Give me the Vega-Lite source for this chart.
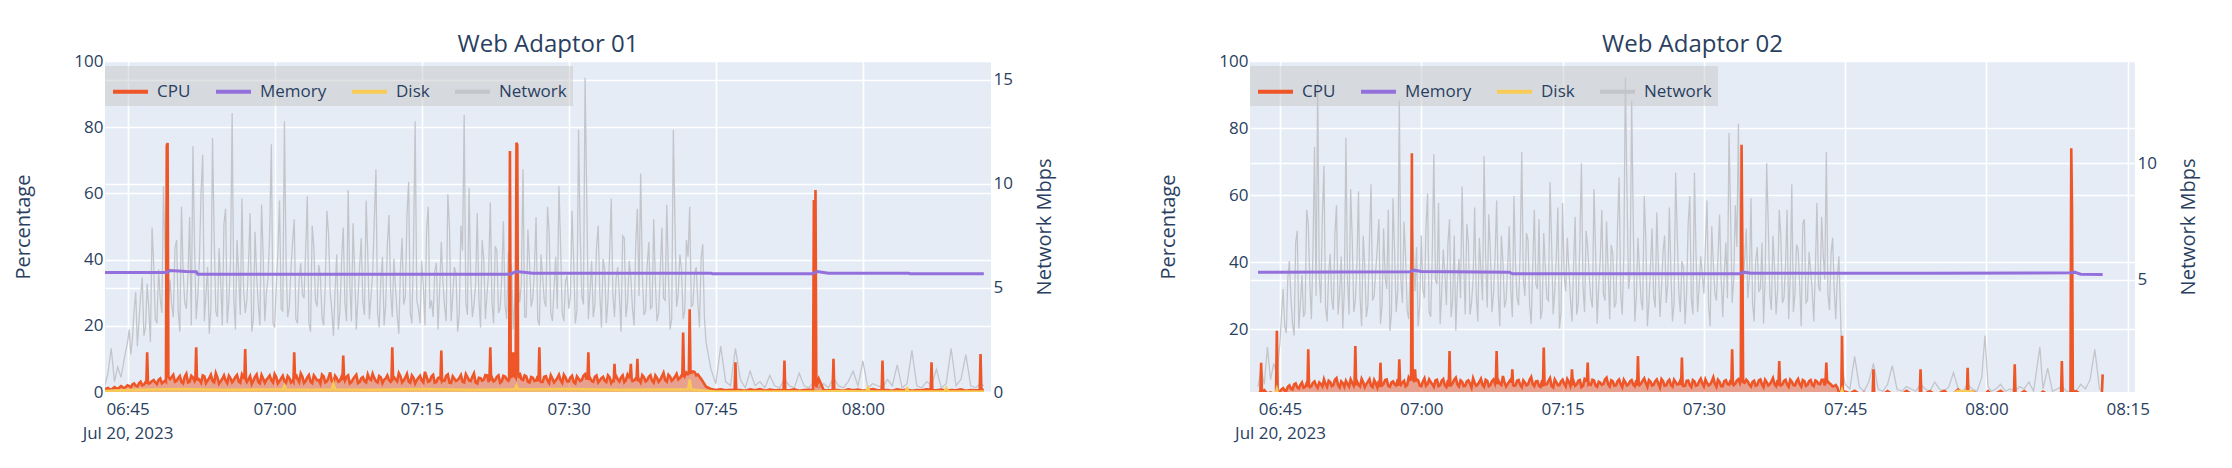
{
"$schema":"https://vega.github.io/schema/vega-lite/v6.json",
"background":"white",
"padding":{"left":13,"top":33,"right":5,"bottom":40},
"config":{
 "font":"Open Sans",
 "view":{"fill":"#E5ECF6","stroke":null},
 "mark":{"invalid":"filter"},
 "axis":{"labelFont":"Open Sans","labelFontSize":17,"labelColor":"#2a3f5f","titleFont":"Open Sans","titleFontSize":20,"titleColor":"#2a3f5f","titleFontWeight":"normal","domain":false,"ticks":false,"gridColor":"white","gridWidth":1.6,"labelFlush":false,"labelOverlap":false},
 "title":{"font":"Open Sans","fontSize":24,"fontWeight":"normal","color":"#2a3f5f"}
},
"datasets":{
"p1":[
{"t":"06:42:40","c":0.8,"n":0.3},{"t":"06:43:00","c":1.2,"n":0.9},{"t":"06:43:20","c":0.6,"n":2.1},{"t":"06:43:40","c":1.5,"n":0.5},{"t":"06:44:00","c":0.9,"n":1.2},{"t":"06:44:20","c":1.8,"n":0.7},{"t":"06:44:40","c":1.1,"n":1.6},
{"t":"06:45:00","c":2.0,"n":2.4},{"t":"06:45:20","c":1.4,"n":1.8},{"t":"06:45:40","c":2.6,"n":3.9},{"t":"06:46:00","c":1.7,"n":2.2},{"t":"06:46:20","c":3.1,"n":4.6},{"t":"06:46:40","c":2.2,"n":2.7},
{"t":"06:47:00","c":12,"n":5.2},{"t":"06:47:20","c":2.8,"n":2.4},{"t":"06:47:40","c":3.6,"n":6.1},{"t":"06:48:00","c":2.4,"n":3.3},{"t":"06:48:20","c":4.1,"n":4.5},{"t":"06:48:40","c":3.0,"n":9.9},
{"t":"06:49:00","c":74.5,"n":3.1},{"t":"06:49:20","c":3.9,"n":5.4},{"t":"06:49:40","c":5.2,"n":3.6},{"t":"06:50:00","c":3.4,"n":7.3},{"t":"06:50:20","c":4.8,"n":2.9},{"t":"06:50:40","c":2.6,"n":5.8},
{"t":"06:51:00","c":5.5,"n":4.0},{"t":"06:51:20","c":3.1,"n":8.4},{"t":"06:51:40","c":4.4,"n":11.8},{"t":"06:52:00","c":13.5,"n":3.5},{"t":"06:52:20","c":3.7,"n":6.4},{"t":"06:52:40","c":5.0,"n":11.4},
{"t":"06:53:00","c":2.7,"n":4.7},{"t":"06:53:20","c":4.2,"n":2.8},{"t":"06:53:40","c":3.3,"n":12.2},{"t":"06:54:00","c":5.7,"n":3.9},{"t":"06:54:20","c":2.5,"n":6.9},{"t":"06:54:40","c":4.0,"n":3.2},
{"t":"06:55:00","c":3.5,"n":8.8},{"t":"06:55:20","c":4.9,"n":4.4},{"t":"06:55:40","c":2.9,"n":13.4},{"t":"06:56:00","c":4.5,"n":3.0},{"t":"06:56:20","c":3.2,"n":5.7},{"t":"06:56:40","c":5.3,"n":9.3},
{"t":"06:57:00","c":13,"n":3.8},{"t":"06:57:20","c":3.8,"n":6.1},{"t":"06:57:40","c":2.4,"n":2.9},{"t":"06:58:00","c":4.6,"n":7.7},{"t":"06:58:20","c":3.0,"n":4.2},{"t":"06:58:40","c":5.1,"n":9.0},
{"t":"06:59:00","c":2.8,"n":3.4},{"t":"06:59:20","c":4.3,"n":5.5},{"t":"06:59:40","c":3.6,"n":11.9},{"t":"07:00:00","c":5.4,"n":3.1},{"t":"07:00:20","c":2.6,"n":6.7},{"t":"07:00:40","c":4.1,"n":4.0},
{"t":"07:01:00","c":3.3,"n":13.0},{"t":"07:01:20","c":4.8,"n":3.6},{"t":"07:01:40","c":2.9,"n":5.9},{"t":"07:02:00","c":12,"n":8.3},{"t":"07:02:20","c":3.9,"n":3.3},{"t":"07:02:40","c":5.6,"n":6.2},
{"t":"07:03:00","c":2.7,"n":4.5},{"t":"07:03:20","c":4.4,"n":9.4},{"t":"07:03:40","c":3.1,"n":2.9},{"t":"07:04:00","c":5.0,"n":7.0},{"t":"07:04:20","c":3.5,"n":4.1},{"t":"07:04:40","c":2.5,"n":5.6},
{"t":"07:05:00","c":4.7,"n":3.2},{"t":"07:05:20","c":3.2,"n":8.7},{"t":"07:05:40","c":5.9,"n":4.8},{"t":"07:06:00","c":2.8,"n":2.7},{"t":"07:06:20","c":4.2,"n":6.6},{"t":"07:06:40","c":3.4,"n":3.9},
{"t":"07:07:00","c":11,"n":7.9},{"t":"07:07:20","c":4.6,"n":3.4},{"t":"07:07:40","c":2.6,"n":5.2},{"t":"07:08:00","c":3.9,"n":8.1},{"t":"07:08:20","c":5.2,"n":3.0},{"t":"07:08:40","c":3.0,"n":6.0},
{"t":"07:09:00","c":4.5,"n":4.3},{"t":"07:09:20","c":2.9,"n":9.2},{"t":"07:09:40","c":4.0,"n":3.5},{"t":"07:10:00","c":5.5,"n":5.7},{"t":"07:10:20","c":3.3,"n":10.7},{"t":"07:10:40","c":4.8,"n":3.1},
{"t":"07:11:00","c":2.7,"n":6.5},{"t":"07:11:20","c":4.1,"n":4.2},{"t":"07:11:40","c":3.6,"n":8.5},{"t":"07:12:00","c":13.5,"n":3.6},{"t":"07:12:20","c":3.8,"n":5.0},{"t":"07:12:40","c":5.7,"n":2.8},
{"t":"07:13:00","c":2.9,"n":7.4},{"t":"07:13:20","c":4.4,"n":4.6},{"t":"07:13:40","c":3.2,"n":10.1},{"t":"07:14:00","c":5.0,"n":3.3},{"t":"07:14:20","c":2.6,"n":13.0},{"t":"07:14:40","c":4.3,"n":4.0},
{"t":"07:15:00","c":3.5,"n":6.3},{"t":"07:15:20","c":6.1,"n":3.2},{"t":"07:15:40","c":3.1,"n":8.9},{"t":"07:16:00","c":4.7,"n":4.4},{"t":"07:16:20","c":2.8,"n":5.8},{"t":"07:16:40","c":4.2,"n":3.0},
{"t":"07:17:00","c":12.5,"n":7.2},{"t":"07:17:20","c":3.4,"n":4.1},{"t":"07:17:40","c":5.3,"n":9.5},{"t":"07:18:00","c":2.7,"n":3.4},{"t":"07:18:20","c":4.0,"n":6.0},{"t":"07:18:40","c":3.6,"n":2.9},
{"t":"07:19:00","c":5.1,"n":8.0},{"t":"07:19:20","c":2.9,"n":13.3},{"t":"07:19:40","c":4.5,"n":3.7},{"t":"07:20:00","c":3.3,"n":5.5},{"t":"07:20:20","c":5.6,"n":4.2},{"t":"07:20:40","c":2.6,"n":8.6},
{"t":"07:21:00","c":4.2,"n":3.1},{"t":"07:21:20","c":3.7,"n":6.4},{"t":"07:21:40","c":5.0,"n":4.7},{"t":"07:22:00","c":13.5,"n":9.1},{"t":"07:22:20","c":3.2,"n":3.3},{"t":"07:22:40","c":4.6,"n":6.8},
{"t":"07:23:00","c":2.8,"n":4.0},{"t":"07:23:20","c":4.9,"n":8.2},{"t":"07:23:40","c":3.9,"n":3.5},{"t":"07:24:00","c":72.8,"n":5.9},{"t":"07:24:20","c":12,"n":3.0},{"t":"07:24:40","c":75.3,"n":7.6},
{"t":"07:25:00","c":5.8,"n":4.3},{"t":"07:25:20","c":3.6,"n":10.7},{"t":"07:25:40","c":4.7,"n":3.6},{"t":"07:26:00","c":2.9,"n":6.2},{"t":"07:26:20","c":4.3,"n":4.5},{"t":"07:26:40","c":3.4,"n":8.4},
{"t":"07:27:00","c":13.5,"n":3.2},{"t":"07:27:20","c":3.0,"n":5.6},{"t":"07:27:40","c":4.8,"n":4.1},{"t":"07:28:00","c":2.7,"n":7.7},{"t":"07:28:20","c":4.1,"n":3.4},{"t":"07:28:40","c":3.5,"n":6.5},
{"t":"07:29:00","c":5.2,"n":9.9},{"t":"07:29:20","c":2.8,"n":3.8},{"t":"07:29:40","c":4.4,"n":5.3},{"t":"07:30:00","c":3.2,"n":4.0},{"t":"07:30:20","c":4.9,"n":8.7},{"t":"07:30:40","c":2.6,"n":3.3},
{"t":"07:31:00","c":4.0,"n":12.6},{"t":"07:31:20","c":3.6,"n":4.6},{"t":"07:31:40","c":5.4,"n":15.1},{"t":"07:32:00","c":12,"n":3.5},{"t":"07:32:20","c":3.3,"n":6.3},{"t":"07:32:40","c":4.6,"n":4.2},
{"t":"07:33:00","c":2.9,"n":8.0},{"t":"07:33:20","c":4.2,"n":3.1},{"t":"07:33:40","c":3.4,"n":5.9},{"t":"07:34:00","c":5.0,"n":4.4},{"t":"07:34:20","c":2.7,"n":9.3},{"t":"07:34:40","c":8.5,"n":3.6},
{"t":"07:35:00","c":3.8,"n":6.0},{"t":"07:35:20","c":4.4,"n":2.9},{"t":"07:35:40","c":3.0,"n":7.4},{"t":"07:36:00","c":5.3,"n":4.3},{"t":"07:36:20","c":8.5,"n":5.5},{"t":"07:36:40","c":3.5,"n":3.2},
{"t":"07:37:00","c":10,"n":8.8},{"t":"07:37:20","c":2.9,"n":10.5},{"t":"07:37:40","c":4.5,"n":3.7},{"t":"07:38:00","c":3.6,"n":6.1},{"t":"07:38:20","c":5.1,"n":4.0},{"t":"07:38:40","c":2.8,"n":8.3},
{"t":"07:39:00","c":4.3,"n":3.4},{"t":"07:39:20","c":3.7,"n":5.8},{"t":"07:39:40","c":5.8,"n":4.5},{"t":"07:40:00","c":3.1,"n":9.0},{"t":"07:40:20","c":4.6,"n":3.0},{"t":"07:40:40","c":3.9,"n":12.6},
{"t":"07:41:00","c":5.5,"n":4.1},{"t":"07:41:20","c":4.2,"n":6.6},{"t":"07:41:40","c":18,"n":3.5},{"t":"07:42:00","c":5.9,"n":7.3},{"t":"07:42:20","c":25,"n":8.9},{"t":"07:42:40","c":6.2,"n":4.2},
{"t":"07:43:00","c":5.0,"n":6.0},{"t":"07:43:20","c":4.6,"n":3.1},{"t":"07:43:40","c":3.2,"n":7.1},{"t":"07:44:00","c":1.6,"n":2.4},
{"t":"06:45:10","c":1.8,"n":3.0},{"t":"06:45:30","c":2.3,"n":2.6},{"t":"06:45:50","c":1.9,"n":4.8},{"t":"06:46:10","c":2.6,"n":3.4},{"t":"06:46:30","c":2.0,"n":5.5},{"t":"06:46:50","c":3.0,"n":3.1},
{"t":"06:47:10","c":2.5,"n":4.0},{"t":"06:47:30","c":3.3,"n":7.9},{"t":"06:47:50","c":2.9,"n":3.5},{"t":"06:48:10","c":3.7,"n":5.9},{"t":"06:48:30","c":2.6,"n":3.8},{"t":"06:48:50","c":3.5,"n":6.4},
{"t":"06:49:30","c":4.5,"n":4.2},{"t":"06:49:50","c":3.1,"n":6.9},{"t":"06:50:10","c":4.2,"n":3.9},{"t":"06:50:30","c":3.0,"n":8.9},{"t":"06:50:50","c":4.6,"n":4.3},
{"t":"06:51:10","c":2.9,"n":5.7},{"t":"06:51:30","c":4.9,"n":3.2},{"t":"06:51:50","c":3.3,"n":7.0},{"t":"06:52:10","c":4.1,"n":4.6},{"t":"06:52:30","c":2.8,"n":9.6},{"t":"06:52:50","c":4.7,"n":3.4},
{"t":"06:53:10","c":3.5,"n":6.0},{"t":"06:53:30","c":5.2,"n":4.0},{"t":"06:53:50","c":2.9,"n":7.5},{"t":"06:54:10","c":4.4,"n":3.6},{"t":"06:54:30","c":3.2,"n":5.3},{"t":"06:54:50","c":5.0,"n":8.1},
{"t":"06:55:10","c":2.7,"n":3.3},{"t":"06:55:30","c":4.1,"n":6.2},{"t":"06:55:50","c":3.6,"n":4.5},{"t":"06:56:10","c":5.1,"n":7.3},{"t":"06:56:30","c":2.8,"n":3.7},{"t":"06:56:50","c":4.3,"n":5.0},
{"t":"06:57:10","c":3.0,"n":4.4},{"t":"06:57:30","c":4.8,"n":8.6},{"t":"06:57:50","c":3.4,"n":3.5},{"t":"06:58:10","c":5.3,"n":5.6},{"t":"06:58:30","c":2.6,"n":3.2},{"t":"06:58:50","c":4.0,"n":6.5},
{"t":"06:59:10","c":3.7,"n":4.8},{"t":"06:59:30","c":5.0,"n":7.7},{"t":"06:59:50","c":2.9,"n":3.3},{"t":"07:00:10","c":4.5,"n":5.1},{"t":"07:00:30","c":3.3,"n":9.2},{"t":"07:00:50","c":4.9,"n":3.9},
{"t":"07:01:10","c":2.8,"n":6.3},{"t":"07:01:30","c":4.2,"n":4.1},{"t":"07:01:50","c":3.5,"n":7.2},{"t":"07:02:10","c":5.4,"n":3.5},{"t":"07:02:30","c":3.0,"n":5.4},{"t":"07:02:50","c":4.6,"n":4.7},
{"t":"07:03:10","c":3.3,"n":6.8},{"t":"07:03:30","c":5.1,"n":3.3},{"t":"07:03:50","c":2.7,"n":8.0},{"t":"07:04:10","c":4.3,"n":4.4},{"t":"07:04:30","c":3.6,"n":6.1},{"t":"07:04:50","c":5.2,"n":3.6},
{"t":"07:05:10","c":2.9,"n":5.2},{"t":"07:05:30","c":4.4,"n":7.6},{"t":"07:05:50","c":3.2,"n":3.9},{"t":"07:06:10","c":4.9,"n":4.9},{"t":"07:06:30","c":3.1,"n":3.0},{"t":"07:06:50","c":4.7,"n":6.3},
{"t":"07:07:10","c":3.4,"n":4.3},{"t":"07:07:30","c":5.0,"n":9.7},{"t":"07:07:50","c":3.0,"n":3.4},{"t":"07:08:10","c":4.6,"n":5.7},{"t":"07:08:30","c":2.7,"n":4.5},{"t":"07:08:50","c":4.1,"n":7.4},
{"t":"07:09:10","c":3.3,"n":3.7},{"t":"07:09:30","c":5.3,"n":6.6},{"t":"07:09:50","c":3.6,"n":4.6},{"t":"07:10:10","c":4.2,"n":8.2},{"t":"07:10:30","c":2.9,"n":3.8},{"t":"07:10:50","c":4.4,"n":5.4},
{"t":"07:11:10","c":3.7,"n":3.2},{"t":"07:11:30","c":5.0,"n":7.1},{"t":"07:11:50","c":3.1,"n":4.8},{"t":"07:12:10","c":4.5,"n":6.4},{"t":"07:12:30","c":3.2,"n":3.7},{"t":"07:12:50","c":4.8,"n":5.9},
{"t":"07:13:10","c":3.5,"n":4.2},{"t":"07:13:30","c":5.5,"n":8.5},{"t":"07:13:50","c":2.8,"n":3.8},{"t":"07:14:10","c":4.3,"n":6.9},{"t":"07:14:30","c":3.6,"n":4.4},{"t":"07:14:50","c":4.9,"n":3.3},
{"t":"07:15:10","c":2.9,"n":5.1},{"t":"07:15:30","c":4.6,"n":7.8},{"t":"07:15:50","c":3.4,"n":4.0},{"t":"07:16:10","c":5.2,"n":3.6},{"t":"07:16:30","c":3.0,"n":6.2},{"t":"07:16:50","c":4.4,"n":4.9},
{"t":"07:17:10","c":3.6,"n":5.3},{"t":"07:17:30","c":4.9,"n":3.4},{"t":"07:17:50","c":2.8,"n":7.9},{"t":"07:18:10","c":4.7,"n":4.6},{"t":"07:18:30","c":3.3,"n":5.7},{"t":"07:18:50","c":4.2,"n":3.7},
{"t":"07:19:10","c":3.1,"n":6.8},{"t":"07:19:30","c":5.4,"n":4.3},{"t":"07:19:50","c":3.5,"n":9.8},{"t":"07:20:10","c":4.6,"n":3.6},{"t":"07:20:30","c":2.9,"n":5.2},{"t":"07:20:50","c":4.3,"n":4.5},
{"t":"07:21:10","c":3.4,"n":7.3},{"t":"07:21:30","c":5.1,"n":3.5},{"t":"07:21:50","c":3.0,"n":5.8},{"t":"07:22:10","c":4.4,"n":4.3},{"t":"07:22:30","c":3.6,"n":7.0},{"t":"07:22:50","c":5.0,"n":3.8},
{"t":"07:23:10","c":3.2,"n":5.5},{"t":"07:23:30","c":4.7,"n":4.2},{"t":"07:23:50","c":3.4,"n":6.7},{"t":"07:24:10","c":4.6,"n":6.1},{"t":"07:24:30","c":4.8,"n":4.4},{"t":"07:24:55","c":4.2,"n":5.0},
{"t":"07:25:10","c":3.9,"n":5.2},{"t":"07:25:30","c":5.0,"n":3.6},{"t":"07:25:50","c":3.1,"n":7.8},{"t":"07:26:10","c":4.5,"n":4.1},{"t":"07:26:30","c":3.3,"n":5.9},{"t":"07:26:50","c":4.8,"n":3.5},
{"t":"07:27:10","c":3.0,"n":6.6},{"t":"07:27:30","c":4.6,"n":4.4},{"t":"07:27:50","c":3.5,"n":8.9},{"t":"07:28:10","c":5.1,"n":3.8},{"t":"07:28:30","c":2.9,"n":5.0},{"t":"07:28:50","c":4.2,"n":4.0},
{"t":"07:29:10","c":3.6,"n":7.0},{"t":"07:29:30","c":5.2,"n":3.4},{"t":"07:29:50","c":3.2,"n":5.6},{"t":"07:30:10","c":4.4,"n":4.6},{"t":"07:30:30","c":3.0,"n":6.3},{"t":"07:30:50","c":4.7,"n":3.9},
{"t":"07:31:10","c":3.3,"n":7.6},{"t":"07:31:30","c":4.9,"n":4.2},{"t":"07:31:50","c":3.7,"n":9.4},{"t":"07:32:10","c":4.3,"n":4.8},{"t":"07:32:30","c":3.1,"n":3.6},{"t":"07:32:50","c":5.0,"n":6.9},
{"t":"07:33:10","c":3.5,"n":4.7},{"t":"07:33:30","c":4.6,"n":6.4},{"t":"07:33:50","c":3.0,"n":3.3},{"t":"07:34:10","c":4.4,"n":6.6},{"t":"07:34:30","c":3.5,"n":4.7},{"t":"07:34:50","c":4.8,"n":5.5},
{"t":"07:35:10","c":3.2,"n":4.6},{"t":"07:35:30","c":5.0,"n":7.5},{"t":"07:35:50","c":3.6,"n":3.6},{"t":"07:36:10","c":4.5,"n":6.3},{"t":"07:36:30","c":3.3,"n":4.0},{"t":"07:36:50","c":4.1,"n":7.1},
{"t":"07:37:10","c":3.8,"n":4.6},{"t":"07:37:30","c":5.1,"n":5.8},{"t":"07:37:50","c":3.2,"n":3.9},{"t":"07:38:10","c":4.6,"n":7.2},{"t":"07:38:30","c":3.4,"n":4.1},{"t":"07:38:50","c":5.0,"n":5.3},
{"t":"07:39:10","c":3.1,"n":3.8},{"t":"07:39:30","c":4.7,"n":7.9},{"t":"07:39:50","c":3.6,"n":4.4},{"t":"07:40:10","c":5.2,"n":5.6},{"t":"07:40:30","c":3.4,"n":3.5},{"t":"07:40:50","c":4.6,"n":8.1},
{"t":"07:41:10","c":3.8,"n":4.7},{"t":"07:41:30","c":5.0,"n":5.9},{"t":"07:41:50","c":4.8,"n":3.9},{"t":"07:42:10","c":5.4,"n":6.5},{"t":"07:42:30","c":5.8,"n":4.1},{"t":"07:42:50","c":6.0,"n":5.7},
{"t":"07:43:10","c":5.3,"n":4.3},{"t":"07:43:30","c":4.0,"n":6.4},{"t":"07:43:50","c":2.4,"n":3.6},
{"t":"07:44:30","c":0.9,"n":1.1},{"t":"07:45:00","c":0.6,"n":0.4},{"t":"07:45:30","c":0.8,"n":2.2},{"t":"07:46:00","c":0.5,"n":0.5},{"t":"07:46:30","c":0.7,"n":0.3},{"t":"07:47:00","c":9,"n":2.1},
{"t":"07:47:30","c":0.6,"n":0.6},{"t":"07:48:00","c":0.4,"n":0.2},{"t":"07:48:30","c":0.8,"n":1.0},{"t":"07:49:00","c":0.5,"n":0.3},{"t":"07:49:30","c":0.9,"n":0.5},{"t":"07:50:00","c":0.4,"n":0.2},
{"t":"07:50:30","c":0.7,"n":0.8},{"t":"07:51:00","c":0.5,"n":0.3},{"t":"07:51:30","c":0.6,"n":0.2},{"t":"07:52:00","c":9.5,"n":0.6},{"t":"07:52:30","c":0.5,"n":0.3},{"t":"07:53:00","c":0.8,"n":0.2},
{"t":"07:53:30","c":0.4,"n":0.9},{"t":"07:54:00","c":0.6,"n":0.3},{"t":"07:54:30","c":0.7,"n":0.2},{"t":"07:55:00","c":58,"n":0.5},{"t":"07:55:10","c":61,"n":0.3},{"t":"07:55:30","c":4,"n":0.2},
{"t":"07:56:00","c":0.6,"n":0.4},{"t":"07:56:30","c":0.5,"n":0.2},{"t":"07:57:00","c":10,"n":0.7},{"t":"07:57:30","c":0.6,"n":0.3},{"t":"07:58:00","c":0.4,"n":0.2},{"t":"07:58:30","c":0.8,"n":0.5},
{"t":"07:59:00","c":0.5,"n":1.0},{"t":"07:59:30","c":0.7,"n":0.3},{"t":"08:00:00","c":0.4,"n":1.5},{"t":"08:00:30","c":0.6,"n":0.2},{"t":"08:01:00","c":0.9,"n":0.4},{"t":"08:01:30","c":0.5,"n":0.3},
{"t":"08:02:00","c":9.5,"n":0.2},{"t":"08:02:30","c":0.6,"n":0.6},{"t":"08:03:00","c":0.4,"n":0.3},{"t":"08:03:30","c":0.8,"n":1.3},{"t":"08:04:00","c":0.5,"n":0.2},{"t":"08:04:30","c":0.7,"n":0.4},
{"t":"08:05:00","c":0.4,"n":2.0},{"t":"08:05:30","c":0.6,"n":0.3},{"t":"08:06:00","c":0.5,"n":0.2},{"t":"08:06:30","c":0.8,"n":0.5},{"t":"08:07:00","c":9,"n":0.3},{"t":"08:07:30","c":0.5,"n":1.1},
{"t":"08:08:00","c":0.7,"n":0.2},{"t":"08:08:30","c":0.4,"n":0.4},{"t":"08:09:00","c":0.6,"n":2.1},{"t":"08:09:30","c":0.5,"n":0.3},{"t":"08:10:00","c":0.8,"n":0.6},{"t":"08:10:30","c":0.4,"n":1.8},
{"t":"08:11:00","c":0.6,"n":0.3},{"t":"08:11:30","c":0.5,"n":0.2},{"t":"08:12:00","c":11.5,"n":0.4},{"t":"08:12:20","c":0.7,"n":0.3},
{"t":"06:46:55","c":2.5},{"t":"06:47:05","c":2.9},{"t":"06:48:55","c":3.2},{"t":"06:49:05","c":75.2},{"t":"06:49:10","c":4.6},{"t":"06:51:55","c":4.0},{"t":"06:52:05","c":3.5},
{"t":"06:56:55","c":4.2},{"t":"06:57:05","c":3.6},{"t":"07:01:55","c":3.1},{"t":"07:02:05","c":4.0},{"t":"07:06:55","c":3.6},{"t":"07:07:05","c":4.2},{"t":"07:11:55","c":3.4},{"t":"07:12:05","c":4.1},
{"t":"07:16:55","c":4.0},{"t":"07:17:05","c":3.3},{"t":"07:21:55","c":4.6},{"t":"07:22:05","c":3.5},{"t":"07:23:55","c":3.7},{"t":"07:24:05","c":4.5},{"t":"07:24:15","c":4.8},{"t":"07:24:25","c":5.2},
{"t":"07:24:35","c":4.4},{"t":"07:24:45","c":74.6},{"t":"07:24:50","c":5.6},{"t":"07:26:55","c":3.2},{"t":"07:27:05","c":3.4},{"t":"07:31:55","c":4.8},{"t":"07:32:05","c":3.6},
{"t":"07:34:35","c":3.0},{"t":"07:34:45","c":4.0},{"t":"07:36:15","c":4.8},{"t":"07:36:25","c":3.8},{"t":"07:36:55","c":3.6},{"t":"07:37:05","c":3.2},{"t":"07:41:35","c":4.5},{"t":"07:41:45","c":5.5},
{"t":"07:42:15","c":5.6},{"t":"07:42:25","c":6.0},{"t":"07:46:55","c":0.6},{"t":"07:47:05","c":0.6},{"t":"07:51:55","c":0.6},{"t":"07:52:05","c":0.5},{"t":"07:54:55","c":0.6},{"t":"07:55:04","c":2.0},{"t":"07:55:15","c":1.5},
{"t":"07:56:55","c":0.5},{"t":"07:57:05","c":0.6},{"t":"08:01:55","c":0.5},{"t":"08:02:05","c":0.6},{"t":"08:06:55","c":0.7},{"t":"08:07:05","c":0.5},{"t":"08:11:55","c":0.5},{"t":"08:12:05","c":0.6},
{"t":"06:42:40","m":36.1},{"t":"06:49:00","m":36.1},{"t":"06:49:20","m":36.7},{"t":"06:51:00","m":36.4},{"t":"06:52:00","m":36.3},{"t":"06:52:10","m":35.6},{"t":"07:24:00","m":35.6},{"t":"07:24:40","m":36.4},{"t":"07:26:20","m":35.9},{"t":"07:44:30","m":35.9},{"t":"07:44:40","m":35.7},{"t":"07:54:50","m":35.7},{"t":"07:55:20","m":36.4},{"t":"07:56:30","m":35.9},{"t":"08:04:40","m":35.9},{"t":"08:04:50","m":35.7},{"t":"08:12:20","m":35.7},
{"t":"06:42:40","d":0.3},{"t":"06:45:00","d":0.6},{"t":"06:50:00","d":0.9},{"t":"06:55:00","d":0.7},{"t":"07:00:00","d":0.8},{"t":"07:00:50","d":0.8},{"t":"07:01:00","d":1.9},{"t":"07:01:10","d":0.7},{"t":"07:05:50","d":0.8},{"t":"07:06:00","d":2.6},{"t":"07:06:10","d":0.8},{"t":"07:10:00","d":0.7},{"t":"07:15:00","d":0.9},{"t":"07:20:00","d":0.7},{"t":"07:24:30","d":0.8},{"t":"07:24:40","d":2.0},{"t":"07:24:50","d":0.8},{"t":"07:30:00","d":0.9},{"t":"07:35:00","d":0.7},{"t":"07:40:00","d":0.8},{"t":"07:42:10","d":0.8},{"t":"07:42:20","d":3.8},{"t":"07:42:30","d":0.8},{"t":"07:44:00","d":0.4},{"t":"07:45:00","d":0.2},{"t":"07:55:00","d":0.2},{"t":"07:58:00","d":0.3},{"t":"08:00:20","d":0.2},{"t":"08:00:30","d":1.4},{"t":"08:00:40","d":0.2},{"t":"08:04:20","d":0.2},{"t":"08:04:30","d":1.1},{"t":"08:04:40","d":0.2},{"t":"08:08:20","d":0.2},{"t":"08:08:30","d":1.2},{"t":"08:08:40","d":0.2},{"t":"08:12:20","d":0.2}
],
"p2":[
{"t":"06:42:40","c":0.9,"n":0.4},{"t":"06:43:00","c":10,"n":1.2},{"t":"06:43:20","c":1.8,"n":0.5},{"t":"06:43:40","c":0.8,"n":2.1},{"t":"06:44:00","c":1.1,"n":0.7},{"t":"06:44:20","c":0.7,"n":1.4},{"t":"06:44:40","c":19.5,"n":0.9},
{"t":"06:45:00","c":1.5,"n":2.3},{"t":"06:45:20","c":2.4,"n":4.6},{"t":"06:45:40","c":1.6,"n":2.7},{"t":"06:46:00","c":3.2,"n":5.8},{"t":"06:46:20","c":2.0,"n":3.1},{"t":"06:46:40","c":3.8,"n":6.6},
{"t":"06:47:00","c":2.3,"n":2.9},{"t":"06:47:20","c":4.1,"n":5.2},{"t":"06:47:40","c":2.7,"n":3.6},{"t":"06:48:00","c":14,"n":7.4},{"t":"06:48:20","c":3.0,"n":3.3},{"t":"06:48:40","c":4.4,"n":10.7},
{"t":"06:49:00","c":2.5,"n":13.6},{"t":"06:49:20","c":3.6,"n":4.0},{"t":"06:49:40","c":5.0,"n":9.9},{"t":"06:50:00","c":2.8,"n":3.2},{"t":"06:50:20","c":4.2,"n":6.1},{"t":"06:50:40","c":3.3,"n":3.7},
{"t":"06:51:00","c":5.4,"n":8.2},{"t":"06:51:20","c":2.6,"n":4.4},{"t":"06:51:40","c":3.9,"n":2.9},{"t":"06:52:00","c":4.6,"n":11.1},{"t":"06:52:20","c":2.9,"n":3.5},{"t":"06:52:40","c":4.0,"n":6.8},
{"t":"06:53:00","c":15,"n":4.1},{"t":"06:53:20","c":3.4,"n":8.8},{"t":"06:53:40","c":5.2,"n":3.0},{"t":"06:54:00","c":2.7,"n":5.6},{"t":"06:54:20","c":4.3,"n":3.9},{"t":"06:54:40","c":3.1,"n":9.1},
{"t":"06:55:00","c":4.8,"n":4.3},{"t":"06:55:20","c":2.6,"n":6.4},{"t":"06:55:40","c":10,"n":3.1},{"t":"06:56:00","c":3.7,"n":7.2},{"t":"06:56:20","c":5.0,"n":4.6},{"t":"06:56:40","c":2.8,"n":2.8},
{"t":"06:57:00","c":4.4,"n":8.5},{"t":"06:57:20","c":3.2,"n":3.6},{"t":"06:57:40","c":11,"n":12.7},{"t":"06:58:00","c":4.1,"n":4.0},{"t":"06:58:20","c":2.9,"n":6.0},{"t":"06:58:40","c":5.6,"n":3.3},
{"t":"06:59:00","c":72.5,"n":7.9},{"t":"06:59:20","c":8,"n":4.5},{"t":"06:59:40","c":4.7,"n":3.0},{"t":"07:00:00","c":3.0,"n":6.9},{"t":"07:00:20","c":5.3,"n":4.2},{"t":"07:00:40","c":3.6,"n":8.7},
{"t":"07:01:00","c":4.2,"n":3.4},{"t":"07:01:20","c":2.8,"n":10.4},{"t":"07:01:40","c":4.9,"n":4.8},{"t":"07:02:00","c":3.3,"n":3.1},{"t":"07:02:20","c":5.1,"n":6.3},{"t":"07:02:40","c":2.7,"n":3.9},
{"t":"07:03:00","c":13.5,"n":7.6},{"t":"07:03:20","c":3.9,"n":4.1},{"t":"07:03:40","c":5.5,"n":2.8},{"t":"07:04:00","c":2.9,"n":5.9},{"t":"07:04:20","c":4.3,"n":9.0},{"t":"07:04:40","c":3.1,"n":3.5},
{"t":"07:05:00","c":4.7,"n":6.6},{"t":"07:05:20","c":2.6,"n":4.0},{"t":"07:05:40","c":4.0,"n":8.1},{"t":"07:06:00","c":3.5,"n":3.2},{"t":"07:06:20","c":5.2,"n":5.4},{"t":"07:06:40","c":2.8,"n":10.3},
{"t":"07:07:00","c":4.6,"n":3.8},{"t":"07:07:20","c":3.3,"n":6.2},{"t":"07:07:40","c":5.0,"n":4.4},{"t":"07:08:00","c":13.5,"n":8.4},{"t":"07:08:20","c":3.7,"n":3.0},{"t":"07:08:40","c":6.0,"n":5.8},
{"t":"07:09:00","c":2.9,"n":4.1},{"t":"07:09:20","c":4.4,"n":7.3},{"t":"07:09:40","c":8,"n":3.4},{"t":"07:10:00","c":3.2,"n":5.7},{"t":"07:10:20","c":4.8,"n":3.9},{"t":"07:10:40","c":2.7,"n":10.5},
{"t":"07:11:00","c":4.1,"n":4.3},{"t":"07:11:20","c":3.5,"n":6.7},{"t":"07:11:40","c":5.7,"n":3.1},{"t":"07:12:00","c":3.0,"n":8.0},{"t":"07:12:20","c":4.5,"n":4.6},{"t":"07:12:40","c":2.8,"n":3.3},
{"t":"07:13:00","c":14.5,"n":7.0},{"t":"07:13:20","c":3.6,"n":4.2},{"t":"07:13:40","c":5.4,"n":9.2},{"t":"07:14:00","c":2.6,"n":3.5},{"t":"07:14:20","c":4.2,"n":6.0},{"t":"07:14:40","c":3.3,"n":2.9},
{"t":"07:15:00","c":4.9,"n":8.3},{"t":"07:15:20","c":2.9,"n":4.5},{"t":"07:15:40","c":4.3,"n":5.5},{"t":"07:16:00","c":8,"n":3.2},{"t":"07:16:20","c":3.1,"n":7.7},{"t":"07:16:40","c":4.6,"n":4.0},
{"t":"07:17:00","c":2.7,"n":10.0},{"t":"07:17:20","c":5.1,"n":3.6},{"t":"07:17:40","c":10,"n":6.4},{"t":"07:18:00","c":3.4,"n":4.2},{"t":"07:18:20","c":4.7,"n":8.9},{"t":"07:18:40","c":2.8,"n":3.1},
{"t":"07:19:00","c":4.0,"n":5.9},{"t":"07:19:20","c":3.6,"n":4.4},{"t":"07:19:40","c":5.5,"n":7.5},{"t":"07:20:00","c":2.9,"n":3.3},{"t":"07:20:20","c":4.4,"n":6.1},{"t":"07:20:40","c":3.2,"n":4.0},
{"t":"07:21:00","c":5.0,"n":9.4},{"t":"07:21:20","c":2.7,"n":3.5},{"t":"07:21:40","c":4.1,"n":13.7},{"t":"07:22:00","c":3.5,"n":4.6},{"t":"07:22:20","c":4.8,"n":12.7},{"t":"07:22:40","c":3.0,"n":3.2},
{"t":"07:23:00","c":12,"n":6.8},{"t":"07:23:20","c":3.8,"n":4.1},{"t":"07:23:40","c":5.3,"n":8.6},{"t":"07:24:00","c":2.8,"n":3.0},{"t":"07:24:20","c":4.3,"n":5.6},{"t":"07:24:40","c":3.4,"n":4.3},
{"t":"07:25:00","c":5.0,"n":7.9},{"t":"07:25:20","c":2.6,"n":3.4},{"t":"07:25:40","c":4.5,"n":6.2},{"t":"07:26:00","c":3.2,"n":4.0},{"t":"07:26:20","c":4.9,"n":8.1},{"t":"07:26:40","c":2.9,"n":3.2},
{"t":"07:27:00","c":4.2,"n":9.6},{"t":"07:27:20","c":3.6,"n":4.5},{"t":"07:27:40","c":11.5,"n":5.8},{"t":"07:28:00","c":3.1,"n":3.1},{"t":"07:28:20","c":4.7,"n":7.4},{"t":"07:28:40","c":2.7,"n":4.2},
{"t":"07:29:00","c":4.4,"n":9.6},{"t":"07:29:20","c":3.3,"n":3.6},{"t":"07:29:40","c":5.2,"n":6.0},{"t":"07:30:00","c":2.9,"n":4.4},{"t":"07:30:20","c":4.0,"n":8.4},{"t":"07:30:40","c":3.5,"n":3.0},
{"t":"07:31:00","c":5.6,"n":5.7},{"t":"07:31:20","c":2.8,"n":4.1},{"t":"07:31:40","c":4.3,"n":7.8},{"t":"07:32:00","c":3.0,"n":3.4},{"t":"07:32:20","c":4.8,"n":6.6},{"t":"07:32:40","c":3.4,"n":11.3},
{"t":"07:33:00","c":14,"n":4.0},{"t":"07:33:20","c":3.7,"n":8.2},{"t":"07:33:40","c":5.1,"n":11.7},{"t":"07:34:00","c":75,"n":3.5},{"t":"07:34:20","c":4.0,"n":5.9},{"t":"07:34:40","c":4.4,"n":4.2},
{"t":"07:35:00","c":2.9,"n":8.5},{"t":"07:35:20","c":4.6,"n":3.2},{"t":"07:35:40","c":3.3,"n":6.4},{"t":"07:36:00","c":5.0,"n":4.6},{"t":"07:36:20","c":2.7,"n":3.1},{"t":"07:36:40","c":4.2,"n":10.0},
{"t":"07:37:00","c":3.6,"n":4.3},{"t":"07:37:20","c":5.4,"n":6.9},{"t":"07:37:40","c":3.0,"n":3.5},{"t":"07:38:00","c":10.5,"n":8.0},{"t":"07:38:20","c":3.5,"n":4.0},{"t":"07:38:40","c":4.9,"n":5.6},
{"t":"07:39:00","c":2.8,"n":3.3},{"t":"07:39:20","c":4.3,"n":9.1},{"t":"07:39:40","c":3.2,"n":4.4},{"t":"07:40:00","c":5.1,"n":6.3},{"t":"07:40:20","c":2.9,"n":3.0},{"t":"07:40:40","c":4.5,"n":7.6},
{"t":"07:41:00","c":3.4,"n":4.1},{"t":"07:41:20","c":4.8,"n":5.4},{"t":"07:41:40","c":3.0,"n":3.2},{"t":"07:42:00","c":4.4,"n":8.3},{"t":"07:42:20","c":3.6,"n":4.5},{"t":"07:42:40","c":4.9,"n":6.1},
{"t":"07:43:00","c":10,"n":10.5},{"t":"07:43:20","c":3.8,"n":3.7},{"t":"07:43:40","c":2.9,"n":6.8},{"t":"07:44:00","c":3.3,"n":3.3},{"t":"07:44:20","c":1.2,"n":6.0},{"t":"07:44:40","c":18,"n":1.2},
{"t":"06:45:10","c":2.0,"n":3.5},{"t":"06:45:30","c":1.7,"n":3.0},{"t":"06:45:50","c":2.8,"n":5.1},{"t":"06:46:10","c":2.2,"n":4.2},{"t":"06:46:30","c":3.5,"n":2.6},{"t":"06:46:50","c":2.6,"n":7.1},
{"t":"06:47:10","c":3.4,"n":4.0},{"t":"06:47:30","c":2.5,"n":3.4},{"t":"06:47:50","c":3.9,"n":8.0},{"t":"06:48:10","c":2.7,"n":4.9},{"t":"06:48:30","c":4.0,"n":6.2},{"t":"06:48:50","c":3.2,"n":4.3},
{"t":"06:49:10","c":4.1,"n":5.1},{"t":"06:49:30","c":2.9,"n":7.7},{"t":"06:49:50","c":3.6,"n":3.8},{"t":"06:50:10","c":4.6,"n":5.3},{"t":"06:50:30","c":3.0,"n":4.1},{"t":"06:50:50","c":4.9,"n":7.0},
{"t":"06:51:10","c":3.3,"n":3.5},{"t":"06:51:30","c":4.4,"n":6.0},{"t":"06:51:50","c":2.8,"n":4.6},{"t":"06:52:10","c":3.7,"n":5.0},{"t":"06:52:30","c":5.0,"n":8.9},{"t":"06:52:50","c":3.1,"n":3.6},
{"t":"06:53:10","c":4.5,"n":5.7},{"t":"06:53:30","c":2.9,"n":4.2},{"t":"06:53:50","c":4.2,"n":6.9},{"t":"06:54:10","c":3.6,"n":3.4},{"t":"06:54:30","c":5.1,"n":6.7},{"t":"06:54:50","c":2.7,"n":4.1},
{"t":"06:55:10","c":3.9,"n":5.4},{"t":"06:55:30","c":4.6,"n":7.6},{"t":"06:55:50","c":3.2,"n":3.9},{"t":"06:56:10","c":4.8,"n":5.1},{"t":"06:56:30","c":3.0,"n":8.0},{"t":"06:56:50","c":4.1,"n":3.5},
{"t":"06:57:10","c":3.5,"n":6.2},{"t":"06:57:30","c":5.0,"n":4.5},{"t":"06:57:50","c":3.4,"n":5.0},{"t":"06:58:10","c":4.6,"n":7.5},{"t":"06:58:30","c":3.3,"n":3.7},{"t":"06:58:50","c":4.9,"n":5.5},
{"t":"06:59:30","c":5.0,"n":6.4},{"t":"06:59:50","c":3.2,"n":3.9},{"t":"07:00:10","c":4.4,"n":4.6},{"t":"07:00:30","c":3.1,"n":7.2},{"t":"07:00:50","c":5.0,"n":3.6},
{"t":"07:01:10","c":3.6,"n":6.1},{"t":"07:01:30","c":4.7,"n":5.0},{"t":"07:01:50","c":3.0,"n":8.3},{"t":"07:02:10","c":4.6,"n":4.4},{"t":"07:02:30","c":3.2,"n":5.3},{"t":"07:02:50","c":4.8,"n":6.6},
{"t":"07:03:10","c":3.3,"n":3.4},{"t":"07:03:30","c":4.9,"n":6.9},{"t":"07:03:50","c":3.5,"n":4.8},{"t":"07:04:10","c":4.7,"n":4.2},{"t":"07:04:30","c":3.0,"n":5.7},{"t":"07:04:50","c":4.4,"n":7.4},
{"t":"07:05:10","c":3.8,"n":3.5},{"t":"07:05:30","c":5.3,"n":5.0},{"t":"07:05:50","c":3.1,"n":4.4},{"t":"07:06:10","c":4.3,"n":6.8},{"t":"07:06:30","c":3.4,"n":4.1},{"t":"07:06:50","c":4.9,"n":5.9},
{"t":"07:07:10","c":3.0,"n":7.8},{"t":"07:07:30","c":4.5,"n":3.6},{"t":"07:07:50","c":3.7,"n":6.0},{"t":"07:08:10","c":4.8,"n":4.5},{"t":"07:08:30","c":3.3,"n":6.9},{"t":"07:08:50","c":4.2,"n":3.8},
{"t":"07:09:10","c":3.6,"n":5.5},{"t":"07:09:30","c":5.0,"n":4.6},{"t":"07:09:50","c":3.1,"n":8.6},{"t":"07:10:10","c":4.6,"n":4.2},{"t":"07:10:30","c":3.4,"n":6.3},{"t":"07:10:50","c":4.7,"n":5.0},
{"t":"07:11:10","c":3.2,"n":7.0},{"t":"07:11:30","c":4.9,"n":3.9},{"t":"07:11:50","c":3.6,"n":5.6},{"t":"07:12:10","c":4.4,"n":4.8},{"t":"07:12:30","c":3.1,"n":7.6},{"t":"07:12:50","c":4.8,"n":3.7},
{"t":"07:13:10","c":3.5,"n":5.5},{"t":"07:13:30","c":4.6,"n":4.1},{"t":"07:13:50","c":3.0,"n":6.6},{"t":"07:14:10","c":5.0,"n":4.5},{"t":"07:14:30","c":3.3,"n":8.1},{"t":"07:14:50","c":4.4,"n":3.6},
{"t":"07:15:10","c":3.7,"n":5.2},{"t":"07:15:30","c":5.1,"n":6.8},{"t":"07:15:50","c":3.0,"n":4.2},{"t":"07:16:10","c":4.5,"n":5.6},{"t":"07:16:30","c":3.5,"n":3.5},{"t":"07:16:50","c":4.8,"n":6.6},
{"t":"07:17:10","c":3.1,"n":4.7},{"t":"07:17:30","c":4.6,"n":7.1},{"t":"07:17:50","c":3.7,"n":5.1},{"t":"07:18:10","c":4.9,"n":3.8},{"t":"07:18:30","c":3.2,"n":6.2},{"t":"07:18:50","c":4.3,"n":4.7},
{"t":"07:19:10","c":3.4,"n":8.0},{"t":"07:19:30","c":5.0,"n":4.1},{"t":"07:19:50","c":3.6,"n":5.4},{"t":"07:20:10","c":4.7,"n":6.5},{"t":"07:20:30","c":3.1,"n":3.8},{"t":"07:20:50","c":4.5,"n":7.3},
{"t":"07:21:10","c":3.6,"n":4.4},{"t":"07:21:30","c":4.9,"n":6.0},{"t":"07:21:50","c":3.2,"n":8.8},{"t":"07:22:10","c":4.4,"n":5.2},{"t":"07:22:30","c":3.5,"n":7.5},{"t":"07:22:50","c":4.8,"n":4.3},
{"t":"07:23:10","c":3.3,"n":5.4},{"t":"07:23:30","c":4.6,"n":3.7},{"t":"07:23:50","c":3.9,"n":6.8},{"t":"07:24:10","c":4.8,"n":4.0},{"t":"07:24:30","c":3.2,"n":7.2},{"t":"07:24:50","c":4.5,"n":3.8},
{"t":"07:25:10","c":3.7,"n":5.6},{"t":"07:25:30","c":5.1,"n":4.6},{"t":"07:25:50","c":3.1,"n":6.9},{"t":"07:26:10","c":4.4,"n":4.8},{"t":"07:26:30","c":3.4,"n":5.3},{"t":"07:26:50","c":4.9,"n":4.0},
{"t":"07:27:10","c":3.5,"n":7.0},{"t":"07:27:30","c":4.7,"n":3.6},{"t":"07:27:50","c":3.0,"n":5.5},{"t":"07:28:10","c":4.6,"n":4.4},{"t":"07:28:30","c":3.3,"n":8.6},{"t":"07:28:50","c":4.8,"n":3.5},
{"t":"07:29:10","c":3.1,"n":6.1},{"t":"07:29:30","c":4.5,"n":4.7},{"t":"07:29:50","c":3.8,"n":5.2},{"t":"07:30:10","c":5.0,"n":6.5},{"t":"07:30:30","c":3.2,"n":3.9},{"t":"07:30:50","c":4.4,"n":7.3},
{"t":"07:31:10","c":3.7,"n":4.4},{"t":"07:31:30","c":4.9,"n":6.0},{"t":"07:31:50","c":3.0,"n":5.1},{"t":"07:32:10","c":4.5,"n":5.3},{"t":"07:32:30","c":3.6,"n":4.2},{"t":"07:32:50","c":4.8,"n":7.8},
{"t":"07:33:10","c":3.3,"n":5.0},{"t":"07:33:30","c":4.7,"n":6.4},{"t":"07:33:50","c":3.9,"n":5.6},{"t":"07:34:30","c":4.9,"n":7.2},{"t":"07:34:50","c":3.4,"n":5.1},
{"t":"07:35:10","c":4.3,"n":4.0},{"t":"07:35:30","c":3.1,"n":5.8},{"t":"07:35:50","c":4.7,"n":4.5},{"t":"07:36:10","c":3.5,"n":6.6},{"t":"07:36:30","c":4.9,"n":5.0},{"t":"07:36:50","c":3.2,"n":7.4},
{"t":"07:37:10","c":4.4,"n":3.7},{"t":"07:37:30","c":3.6,"n":5.5},{"t":"07:37:50","c":4.8,"n":4.6},{"t":"07:38:10","c":3.2,"n":6.9},{"t":"07:38:30","c":4.6,"n":4.2},{"t":"07:38:50","c":3.5,"n":8.0},
{"t":"07:39:10","c":4.9,"n":5.1},{"t":"07:39:30","c":3.3,"n":3.6},{"t":"07:39:50","c":4.4,"n":6.5},{"t":"07:40:10","c":3.6,"n":4.8},{"t":"07:40:30","c":4.8,"n":7.4},{"t":"07:40:50","c":3.1,"n":4.0},
{"t":"07:41:10","c":4.5,"n":6.2},{"t":"07:41:30","c":3.4,"n":4.5},{"t":"07:41:50","c":4.7,"n":5.4},{"t":"07:42:10","c":3.7,"n":4.7},{"t":"07:42:30","c":4.9,"n":7.7},{"t":"07:42:50","c":3.2,"n":5.0},
{"t":"07:43:10","c":4.4,"n":4.4},{"t":"07:43:30","c":3.5,"n":6.1},{"t":"07:43:50","c":3.0,"n":4.6},{"t":"07:44:10","c":2.6,"n":5.1},
{"t":"07:45:00","c":1.4,"n":0.5},{"t":"07:45:30","c":0.8,"n":0.3},{"t":"07:46:00","c":1.6,"n":1.7},{"t":"07:46:30","c":0.7,"n":0.4},{"t":"07:47:00","c":1.0,"n":0.2},{"t":"07:47:30","c":0.6,"n":0.6},
{"t":"07:48:00","c":8,"n":1.4},{"t":"07:48:30","c":0.8,"n":0.3},{"t":"07:49:00","c":0.5,"n":0.2},{"t":"07:49:30","c":1.5,"n":0.5},{"t":"07:50:00","c":0.6,"n":1.3},{"t":"07:50:30","c":0.9,"n":0.3},
{"t":"07:51:00","c":0.5,"n":0.2},{"t":"07:51:30","c":1.6,"n":0.4},{"t":"07:52:00","c":0.7,"n":0.3},{"t":"07:52:30","c":0.5,"n":0.2},{"t":"07:53:00","c":8,"n":0.5},{"t":"07:53:30","c":0.8,"n":0.3},
{"t":"07:54:00","c":1.5,"n":0.2},{"t":"07:54:30","c":0.6,"n":0.6},{"t":"07:55:00","c":0.9,"n":0.3},{"t":"07:55:30","c":1.6,"n":0.2},{"t":"07:56:00","c":0.5,"n":0.4},{"t":"07:56:30","c":0.8,"n":1.0},
{"t":"07:57:00","c":2.0,"n":0.3},{"t":"07:57:30","c":0.6,"n":0.2},{"t":"07:58:00","c":8.5,"n":0.5},{"t":"07:58:30","c":1.4,"n":0.3},{"t":"07:59:00","c":0.7,"n":0.2},{"t":"07:59:30","c":0.5,"n":0.8},
{"t":"07:59:50","c":0.6,"n":2.6},{"t":"08:00:10","c":1.5,"n":0.4},{"t":"08:00:30","c":0.6,"n":0.2},{"t":"08:01:00","c":0.8,"n":0.3},{"t":"08:01:30","c":1.6,"n":0.5},{"t":"08:02:00","c":0.5,"n":0.2},
{"t":"08:02:30","c":0.9,"n":0.3},{"t":"08:03:00","c":9.5,"n":0.2},{"t":"08:03:30","c":0.6,"n":0.4},{"t":"08:04:00","c":1.5,"n":0.3},{"t":"08:04:30","c":0.5,"n":0.6},{"t":"08:05:00","c":0.7,"n":0.2},
{"t":"08:05:40","c":0.6,"n":2.1},{"t":"08:06:00","c":1.4,"n":0.3},{"t":"08:06:30","c":0.5,"n":1.2},{"t":"08:07:00","c":0.8,"n":0.2},{"t":"08:07:30","c":0.6,"n":0.3},{"t":"08:08:00","c":10.5,"n":0.4},
{"t":"08:08:30","c":0.7,"n":0.2},{"t":"08:09:00","c":74,"n":0.2},{"t":"08:09:10","c":1.2,"n":0.3},{"t":"08:09:30","c":1.5,"n":0.2},{"t":"08:10:00","c":0.6,"n":0.5},{"t":"08:10:30","c":0.8,"n":0.3},
{"t":"08:11:00","c":0.5,"n":0.7},{"t":"08:11:30","c":0.7,"n":2.0},{"t":"08:12:00","c":0.5,"n":0.3},{"t":"08:12:20","c":6.5,"n":0.2},
{"t":"06:42:55","c":0.9},{"t":"06:43:05","c":1.0},{"t":"06:44:35","c":0.8},{"t":"06:44:45","c":1.2},{"t":"06:47:55","c":2.8},{"t":"06:48:05","c":3.2},{"t":"06:52:55","c":4.1},{"t":"06:53:05","c":3.3},
{"t":"06:55:35","c":2.7},{"t":"06:55:45","c":3.5},{"t":"06:57:35","c":3.1},{"t":"06:57:45","c":4.0},{"t":"06:58:55","c":5.0},{"t":"06:59:05","c":5.5},{"t":"06:59:15","c":4.2},{"t":"06:59:25","c":4.5},
{"t":"07:02:55","c":2.9},{"t":"07:03:05","c":3.7},{"t":"07:07:55","c":4.8},{"t":"07:08:05","c":3.6},{"t":"07:09:35","c":4.0},{"t":"07:09:45","c":3.3},{"t":"07:12:55","c":2.9},{"t":"07:13:05","c":3.8},
{"t":"07:15:55","c":4.1},{"t":"07:16:05","c":3.3},{"t":"07:17:35","c":4.8},{"t":"07:17:45","c":3.5},{"t":"07:22:55","c":3.2},{"t":"07:23:05","c":3.6},{"t":"07:27:35","c":3.4},{"t":"07:27:45","c":3.2},
{"t":"07:32:55","c":3.5},{"t":"07:33:05","c":3.9},{"t":"07:33:55","c":4.8},{"t":"07:34:05","c":45},{"t":"07:34:10","c":4.2},{"t":"07:37:55","c":3.2},{"t":"07:38:05","c":3.7},{"t":"07:42:55","c":4.6},{"t":"07:43:05","c":3.9},
{"t":"07:44:35","c":1.1},{"t":"07:44:45","c":1.3},{"t":"07:47:55","c":0.7},{"t":"07:48:05","c":0.8},{"t":"07:52:55","c":0.6},{"t":"07:53:05","c":0.7},{"t":"07:57:55","c":0.7},{"t":"07:58:05","c":1.0},
{"t":"08:02:55","c":0.8},{"t":"08:03:05","c":0.6},{"t":"08:07:55","c":0.6},{"t":"08:08:05","c":0.7},{"t":"08:08:55","c":0.7},{"t":"08:09:05","c":55},{"t":"08:12:15","c":0.6},
{"t":"06:42:40","m":37.0},{"t":"06:58:50","m":37.1},{"t":"06:59:10","m":37.6},{"t":"07:00:00","m":37.2},{"t":"07:09:20","m":37.0},{"t":"07:09:40","m":36.5},{"t":"07:33:50","m":36.5},{"t":"07:34:10","m":37.0},{"t":"07:35:00","m":36.7},{"t":"07:54:00","m":36.7},{"t":"08:09:00","m":36.8},{"t":"08:09:20","m":37.0},{"t":"08:10:00","m":36.4},{"t":"08:12:20","m":36.3},
{"t":"06:42:40","d":0.3},{"t":"06:44:20","d":0.4},{"t":"06:44:30","d":0.4},{"t":"06:44:40","d":2.2},{"t":"06:44:50","d":0.5},{"t":"07:00:00","d":0.6},{"t":"07:44:20","d":0.5},{"t":"07:44:30","d":0.5},{"t":"07:44:40","d":2.0},{"t":"07:44:50","d":0.3},{"t":"07:56:00","d":0.3},{"t":"07:57:00","d":1.6},{"t":"07:58:30","d":1.4},{"t":"07:59:00","d":0.3},{"t":"08:12:20","d":0.3}
]
},
"spacing":259,
"bounds":"flush",
"resolve":{"scale":{"color":"independent"}},
"hconcat":[
{
 "width":886,"height":331,
 "data":{"name":"p1","format":{"parse":{"t":"date:'%H:%M:%S'"}}},
 "title":{"text":"Web Adaptor 01","offset":-24,"baseline":"alphabetic","anchor":"middle"},
 "encoding":{"x":{"field":"t","type":"temporal","title":null,
   "scale":{"domain":[{"year":1900,"month":1,"date":1,"hours":6,"minutes":42,"seconds":42},{"year":1900,"month":1,"date":1,"hours":8,"minutes":13,"seconds":4}]},
   "axis":{"values":[{"year":1900,"month":1,"date":1,"hours":6,"minutes":45},{"year":1900,"month":1,"date":1,"hours":7,"minutes":0},{"year":1900,"month":1,"date":1,"hours":7,"minutes":15},{"year":1900,"month":1,"date":1,"hours":7,"minutes":30},{"year":1900,"month":1,"date":1,"hours":7,"minutes":45},{"year":1900,"month":1,"date":1,"hours":8,"minutes":0}],
     "format":"%H:%M","labelExpr":"datum.label == '06:45' ? ['06:45', 'Jul 20, 2023'] : datum.label","labelLineHeight":24,"labelPadding":9,"grid":true}}},
 "resolve":{"scale":{"y":"independent"}},
 "layer":[
  {"transform":[{"filter":"isValid(datum.n)"}],
   "mark":{"type":"line","strokeWidth":1.3,"clip":true},
   "encoding":{"y":{"field":"n","type":"quantitative","scale":{"domain":[0,15.9]},"axis":{"orient":"right","title":"Network Mbps","values":[0,5,10,15],"titleAngle":-90,"titleBaseline":"top","titlePadding":22,"labelPadding":2,"grid":true}},
     "color":{"datum":"Network","type":"nominal","scale":{"domain":["CPU","Memory","Disk","Network"],"range":["#EE5527","#9370DB","#F8CB57","#C4C5CA"]},
       "legend":{"title":null,"orient":"none","legendX":0,"legendY":5,"direction":"horizontal","columns":4,"fillColor":"rgba(200,200,200,0.5)","padding":6,"symbolType":"stroke","symbolSize":1225,"symbolStrokeWidth":4,"labelFontSize":17,"labelFont":"Open Sans","labelColor":"#2a3f5f","labelOffset":7,"columnPadding":17}}}},
  {"layer":[
   {"transform":[{"filter":"isValid(datum.c)"}],"mark":{"type":"area","color":"#EE5527","opacity":0.5,"clip":true},
    "encoding":{"y":{"field":"c","type":"quantitative","scale":{"domain":[0,100]},"axis":{"orient":"left","title":"Percentage","values":[0,20,40,60,80,100],"titlePadding":40,"labelPadding":2,"grid":true}},"y2":{"datum":0}}},
   {"transform":[{"filter":"isValid(datum.c)"}],"mark":{"type":"line","strokeWidth":2.6,"clip":true},
    "encoding":{"y":{"field":"c","type":"quantitative","scale":{"domain":[0,100]},"axis":{"orient":"left","title":"Percentage","values":[0,20,40,60,80,100],"titlePadding":40,"labelPadding":2,"grid":true}},"color":{"datum":"CPU","type":"nominal"}}},
   {"transform":[{"filter":"isValid(datum.d)"}],"mark":{"type":"area","color":"#F8CB57","opacity":0.5,"clip":true},
    "encoding":{"y":{"field":"d","type":"quantitative","scale":{"domain":[0,100]},"axis":{"orient":"left","title":"Percentage","values":[0,20,40,60,80,100],"titlePadding":40,"labelPadding":2,"grid":true}},"y2":{"datum":0}}},
   {"transform":[{"filter":"isValid(datum.d)"}],"mark":{"type":"line","strokeWidth":2.4,"clip":true},
    "encoding":{"y":{"field":"d","type":"quantitative","scale":{"domain":[0,100]},"axis":{"orient":"left","title":"Percentage","values":[0,20,40,60,80,100],"titlePadding":40,"labelPadding":2,"grid":true}},"color":{"datum":"Disk","type":"nominal"}}},
   {"transform":[{"filter":"isValid(datum.m)"}],"mark":{"type":"line","strokeWidth":3,"clip":true},
    "encoding":{"y":{"field":"m","type":"quantitative","scale":{"domain":[0,100]},"axis":{"orient":"left","title":"Percentage","values":[0,20,40,60,80,100],"titlePadding":40,"labelPadding":2,"grid":true}},"color":{"datum":"Memory","type":"nominal"}}}
  ]}
 ]
},
{
 "width":885,"height":331,
 "data":{"name":"p2","format":{"parse":{"t":"date:'%H:%M:%S'"}}},
 "title":{"text":"Web Adaptor 02","offset":-24,"baseline":"alphabetic","anchor":"middle"},
 "encoding":{"x":{"field":"t","type":"temporal","title":null,
   "scale":{"domain":[{"year":1900,"month":1,"date":1,"hours":6,"minutes":41,"seconds":49},{"year":1900,"month":1,"date":1,"hours":8,"minutes":15,"seconds":46}]},
   "axis":{"values":[{"year":1900,"month":1,"date":1,"hours":6,"minutes":45},{"year":1900,"month":1,"date":1,"hours":7,"minutes":0},{"year":1900,"month":1,"date":1,"hours":7,"minutes":15},{"year":1900,"month":1,"date":1,"hours":7,"minutes":30},{"year":1900,"month":1,"date":1,"hours":7,"minutes":45},{"year":1900,"month":1,"date":1,"hours":8,"minutes":0},{"year":1900,"month":1,"date":1,"hours":8,"minutes":15}],
     "format":"%H:%M","labelExpr":"datum.label == '06:45' ? ['06:45', 'Jul 20, 2023'] : datum.label","labelLineHeight":24,"labelPadding":9,"grid":true}}},
 "resolve":{"scale":{"y":"independent"}},
 "layer":[
  {"transform":[{"filter":"isValid(datum.n)"}],
   "mark":{"type":"line","strokeWidth":1.3,"clip":true},
   "encoding":{"y":{"field":"n","type":"quantitative","scale":{"domain":[0.17,14.4]},"axis":{"orient":"right","title":"Network Mbps","values":[5,10],"titleAngle":-90,"titleBaseline":"top","titlePadding":22,"labelPadding":2,"grid":true}},
     "color":{"datum":"Network","type":"nominal","scale":{"domain":["CPU","Memory","Disk","Network"],"range":["#EE5527","#9370DB","#F8CB57","#C4C5CA"]},
       "legend":{"title":null,"orient":"none","legendX":0,"legendY":5,"direction":"horizontal","columns":4,"fillColor":"rgba(200,200,200,0.5)","padding":6,"symbolType":"stroke","symbolSize":1225,"symbolStrokeWidth":4,"labelFontSize":17,"labelFont":"Open Sans","labelColor":"#2a3f5f","labelOffset":7,"columnPadding":17}}}},
  {"layer":[
   {"transform":[{"filter":"isValid(datum.c)"}],"mark":{"type":"area","color":"#EE5527","opacity":0.5,"clip":true},
    "encoding":{"y":{"field":"c","type":"quantitative","scale":{"domain":[1.25,100]},"axis":{"orient":"left","title":"Percentage","values":[20,40,60,80,100],"titlePadding":40,"labelPadding":2,"grid":true}},"y2":{"datum":0}}},
   {"transform":[{"filter":"isValid(datum.c)"}],"mark":{"type":"line","strokeWidth":2.6,"clip":true},
    "encoding":{"y":{"field":"c","type":"quantitative","scale":{"domain":[1.25,100]},"axis":{"orient":"left","title":"Percentage","values":[20,40,60,80,100],"titlePadding":40,"labelPadding":2,"grid":true}},"color":{"datum":"CPU","type":"nominal"}}},
   {"transform":[{"filter":"isValid(datum.d)"}],"mark":{"type":"area","color":"#F8CB57","opacity":0.5,"clip":true},
    "encoding":{"y":{"field":"d","type":"quantitative","scale":{"domain":[1.25,100]},"axis":{"orient":"left","title":"Percentage","values":[20,40,60,80,100],"titlePadding":40,"labelPadding":2,"grid":true}},"y2":{"datum":0}}},
   {"transform":[{"filter":"isValid(datum.d)"}],"mark":{"type":"line","strokeWidth":2.4,"clip":true},
    "encoding":{"y":{"field":"d","type":"quantitative","scale":{"domain":[1.25,100]},"axis":{"orient":"left","title":"Percentage","values":[20,40,60,80,100],"titlePadding":40,"labelPadding":2,"grid":true}},"color":{"datum":"Disk","type":"nominal"}}},
   {"transform":[{"filter":"isValid(datum.m)"}],"mark":{"type":"line","strokeWidth":3,"clip":true},
    "encoding":{"y":{"field":"m","type":"quantitative","scale":{"domain":[1.25,100]},"axis":{"orient":"left","title":"Percentage","values":[20,40,60,80,100],"titlePadding":40,"labelPadding":2,"grid":true}},"color":{"datum":"Memory","type":"nominal"}}}
  ]}
 ]
}
]
}
